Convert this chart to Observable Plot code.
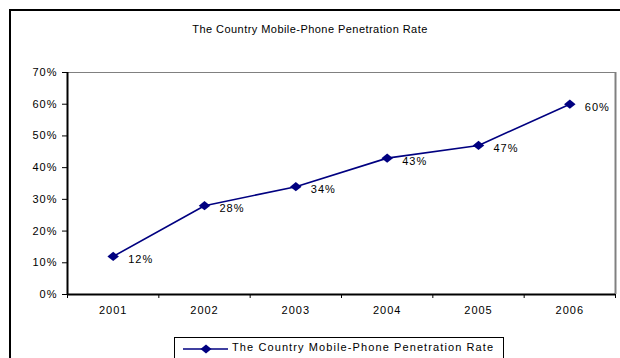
<!DOCTYPE html>
<html>
<head>
<meta charset="utf-8">
<script src="https://cdn.jsdelivr.net/npm/d3@7"></script>
<script src="https://cdn.jsdelivr.net/npm/@observablehq/plot@0.6"></script>
<style>
  html, body { margin: 0; padding: 0; background: #fff; }
  #wrap { position: relative; width: 620px; height: 358px; overflow: hidden; font-family: "Liberation Sans", Arial, sans-serif; }
  #border { position: absolute; left: 9px; top: 9px; width: 700px; height: 500px; border: 2px solid #000; pointer-events: none; z-index: 2; }
  #title { position: absolute; left: 0; width: 620px; top: 23px; text-align: center; font-size: 11px; letter-spacing: 0.45px; color: #000; z-index: 3; }
  #legend { position: absolute; left: 174px; top: 337px; width: 328px; height: 40px; border: 1.5px solid #000; background: #fff; z-index: 3; }
  #legend svg { position: absolute; left: 7px; top: 3px; }
  #legend span { position: absolute; left: 57px; top: 3px; font-size: 11px; letter-spacing: 1.1px; color: #000; white-space: nowrap; }
</style>
</head>
<body>
<div id="wrap">
  <div id="border"></div>
  <div id="title"></div>
  <div id="legend">
    <svg width="50" height="14"><line x1="1" y1="8" x2="46" y2="8" stroke="#000080" stroke-width="1.5"/><path d="M24,3.5 L29.5,8 L24,12.5 L18.5,8 Z" fill="#000080"/></svg>
    <span id="legendText"></span>
  </div>
</div>
<script>
const title = "The Country Mobile-Phone Penetration Rate";
const seriesName = "The Country Mobile-Phone Penetration Rate";
const years = [2001, 2002, 2003, 2004, 2005, 2006];
const rates = [0.12, 0.28, 0.34, 0.43, 0.47, 0.60];
const yTicks = [0, 0.1, 0.2, 0.3, 0.4, 0.5, 0.6, 0.7];

const data = years.map((y, i) => ({year: y, rate: rates[i]}));
const bounds = [years[0] - 0.5, ...years.map(y => y + 0.5)];
const pct = d3.format(".0%");
const navy = "#000080";

// wide Excel-style diamond marker
const wideDiamond = {
  draw(ctx, size) {
    const r = Math.sqrt(size / Math.PI);
    const w = r * 1.25;
    ctx.moveTo(0, -r);
    ctx.lineTo(w, 0);
    ctx.lineTo(0, r);
    ctx.lineTo(-w, 0);
    ctx.closePath();
  }
};

const chart = Plot.plot({
  width: 620,
  height: 358,
  marginLeft: 67,
  marginRight: 5,
  marginTop: 72,
  marginBottom: 64,
  style: {fontFamily: "'Liberation Sans', Arial, sans-serif", fontSize: "11px", color: "#000", background: "transparent", letterSpacing: "1px"},
  x: {domain: [bounds[0], bounds[bounds.length - 1]]},
  y: {domain: [0, 0.7]},
  marks: [
    Plot.ruleY([0.7], {stroke: "#808080", strokeWidth: 1.2}),
    Plot.ruleX([bounds[bounds.length - 1]], {stroke: "#808080", strokeWidth: 2}),
    Plot.axisY({ticks: yTicks, tickFormat: pct, tickSize: 5, tickPadding: 5, fontSize: 11, label: null, stroke: "#000"}),
    Plot.axisX({ticks: bounds, tickFormat: () => "", tickSize: 4, label: null, stroke: "#000"}),
    Plot.axisX({ticks: years, tickFormat: d => String(d), tickSize: 0, tickPadding: 12, fontSize: 11, label: null}),
    Plot.ruleX([bounds[0]], {stroke: "#000", strokeWidth: 2}),
    Plot.ruleY([0], {stroke: "#000", strokeWidth: 2}),
    Plot.line(data, {x: "year", y: "rate", stroke: navy, strokeWidth: 1.6}),
    Plot.dot(data, {x: "year", y: "rate", symbol: wideDiamond, r: 4.6, fill: navy, stroke: "none"}),
    Plot.text(data, {x: "year", y: "rate", text: d => pct(d.rate), dx: 15, dy: 3, textAnchor: "start", fontSize: 11, fill: "#000"})
  ]
});
const wrap = document.getElementById("wrap");
chart.style.position = "absolute";
chart.style.left = "0px";
chart.style.top = "0px";
wrap.appendChild(chart);
document.getElementById("title").textContent = title;
document.getElementById("legendText").textContent = seriesName;
</script>
</body>
</html>
